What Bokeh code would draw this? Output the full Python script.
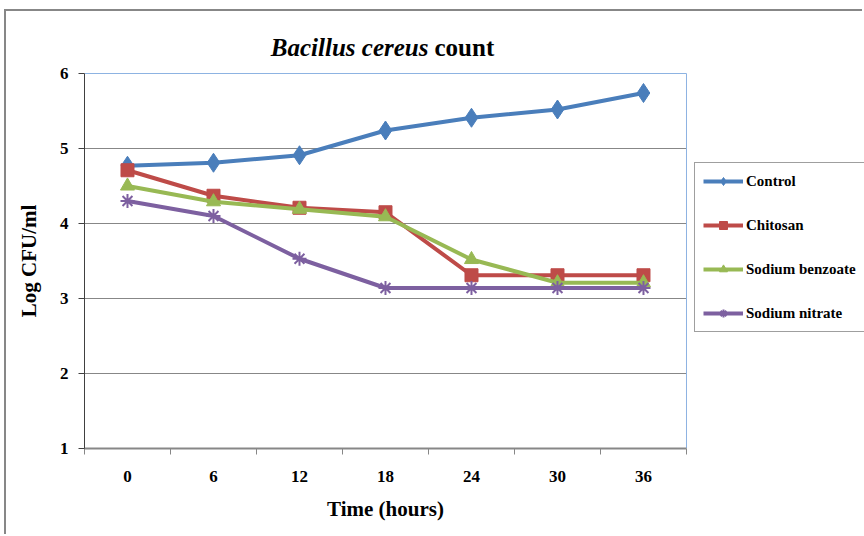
from bokeh.plotting import figure
from bokeh.models import FixedTicker, Legend, LegendItem, Label, LinearAxis
from bokeh.embed import file_html
from bokeh.resources import INLINE

# ---- data ----
hours = ["0", "6", "12", "18", "24", "30", "36"]
control = [4.77, 4.81, 4.91, 5.24, 5.41, 5.52, 5.74]
chitosan = [4.71, 4.37, 4.21, 4.15, 3.31, 3.31, 3.31]
benzoate = [4.50, 4.29, 4.19, 4.09, 3.52, 3.21, 3.21]
nitrate = [4.30, 4.10, 3.53, 3.14, 3.14, 3.14, 3.14]
y_ticks = [1, 2, 3, 4, 5, 6]
series_names = ["Control", "Chitosan", "Sodium benzoate", "Sodium nitrate"]
x_title = "Time (hours)"
y_title = "Log CFU/ml"

# categorical positions (centre of each category slot)
N = len(hours)
xs = [i + 0.5 for i in range(N)]
bounds = list(range(N + 1))
Y_MIN, Y_MAX = y_ticks[0], y_ticks[-1]
Y_TOP = 6.64      # room above the plot area for the title
X_RIGHT = 9.07    # room right of the plot area for the legend

FONT = "Liberation Serif"
BORDER_BLUE = "#8db3e2"
GRID_GRAY = "#878787"

p = figure(width=858, height=525, x_range=(0, X_RIGHT), y_range=(Y_MIN, Y_TOP),
           output_backend="svg", toolbar_location=None,
           min_border_left=78, min_border_right=0,
           min_border_top=14, min_border_bottom=88)
p.margin = (9, 0, 0, 4)
p.styles = {"border-left": "2px solid #878787", "border-top": "2px solid #878787"}
p.background_fill_color = "white"
p.border_fill_color = "white"
p.outline_line_color = None

# x axis
p.xaxis.ticker = FixedTicker(ticks=xs, minor_ticks=bounds)
p.xaxis.bounds = (0, N)
p.xaxis.major_label_overrides = {x: h for x, h in zip(xs, hours)}
p.xaxis.major_tick_out = 0
p.xaxis.major_tick_in = 0
p.xaxis.minor_tick_out = 6
p.xaxis.minor_tick_in = 0
p.xaxis.minor_tick_line_color = GRID_GRAY
p.xaxis.axis_line_color = GRID_GRAY
p.xaxis.axis_line_width = 2
p.xaxis.major_label_standoff = 16

# y axis
p.yaxis.ticker = FixedTicker(ticks=y_ticks)
p.yaxis.bounds = (Y_MIN, Y_MAX)
p.yaxis.major_tick_out = 6
p.yaxis.major_tick_in = 0
p.yaxis.major_tick_line_color = "#404040"
p.yaxis.axis_line_color = "#404040"
p.yaxis.major_label_standoff = 10

for ax in (p.xaxis, p.yaxis):
    ax.major_label_text_font = FONT
    ax.major_label_text_font_style = "bold"
    ax.major_label_text_font_size = "17px"
    ax.major_label_text_color = "black"

# axis titles, centred on the plot area (not on the widened frame)
xc = N / 2
yc = (Y_MIN + Y_MAX) / 2
xt_axis = LinearAxis(ticker=FixedTicker(ticks=[xc]), major_label_overrides={xc: x_title},
                     axis_line_color=None, major_tick_line_color=None,
                     minor_tick_line_color=None, major_label_standoff=6,
                     major_label_text_font=FONT, major_label_text_font_style="bold",
                     major_label_text_font_size="21px", major_label_text_color="black")
p.add_layout(xt_axis, "below")
yt_axis = LinearAxis(ticker=FixedTicker(ticks=[yc]), major_label_overrides={yc: y_title},
                     major_label_orientation="vertical",
                     axis_line_color=None, major_tick_line_color=None,
                     minor_tick_line_color=None, major_label_standoff=10,
                     major_label_text_font=FONT, major_label_text_font_style="bold",
                     major_label_text_font_size="21px", major_label_text_color="black")
p.add_layout(yt_axis, "left")

# grid lines limited to the plot area, plus its blue top/right border
p.xgrid.visible = False
p.ygrid.visible = False
grid_y = y_ticks[1:-1]
p.segment(x0=0, x1=N, y0=grid_y, y1=grid_y, line_color=GRID_GRAY, line_width=1)
p.segment(x0=0, x1=N, y0=Y_MAX, y1=Y_MAX, line_color=BORDER_BLUE, line_width=1)
p.segment(x0=N, x1=N, y0=Y_MIN, y1=Y_MAX, line_color=BORDER_BLUE, line_width=1)

# series
colors = ["#4a7ebb", "#be4b48", "#98b954", "#7d60a0"]
markers = ["diamond", "square", "triangle", "asterisk"]
sizes = [19, 13, 14, 14]
values = [control, chitosan, benzoate, nitrate]

items = []
for name, vals, c, m, s in zip(series_names, values, colors, markers, sizes):
    lr = p.line(xs, vals, line_color=c, line_width=4)
    sr = p.scatter(xs, vals, marker=m, size=s, fill_color=c, line_color=c,
                   line_width=2 if m == "asterisk" else 1)
    items.append(LegendItem(label=name, renderers=[lr, sr]))

legend = Legend(items=items, location=(610, 116),
                label_text_font=FONT, label_text_font_style="bold",
                label_text_font_size="15px", label_text_color="black",
                glyph_width=40, glyph_height=20, label_height=20,
                spacing=24, padding=8, margin=0, label_standoff=3,
                border_line_color="#404040", border_line_width=1,
                background_fill_color="white", background_fill_alpha=1)
p.add_layout(legend)

# title (italic genus/species + roman "count")
p.add_layout(Label(x=4.0, y=6.347, text="Bacillus cereus", text_align="right",
                   text_baseline="middle", text_font=FONT,
                   text_font_style="bold italic", text_font_size="25px",
                   text_color="black"))
p.add_layout(Label(x=4.0, y=6.347, x_offset=6, text="count", text_align="left",
                   text_baseline="middle", text_font=FONT,
                   text_font_style="bold", text_font_size="25px",
                   text_color="black"))

open("out.html", "w").write(file_html(p, INLINE))
